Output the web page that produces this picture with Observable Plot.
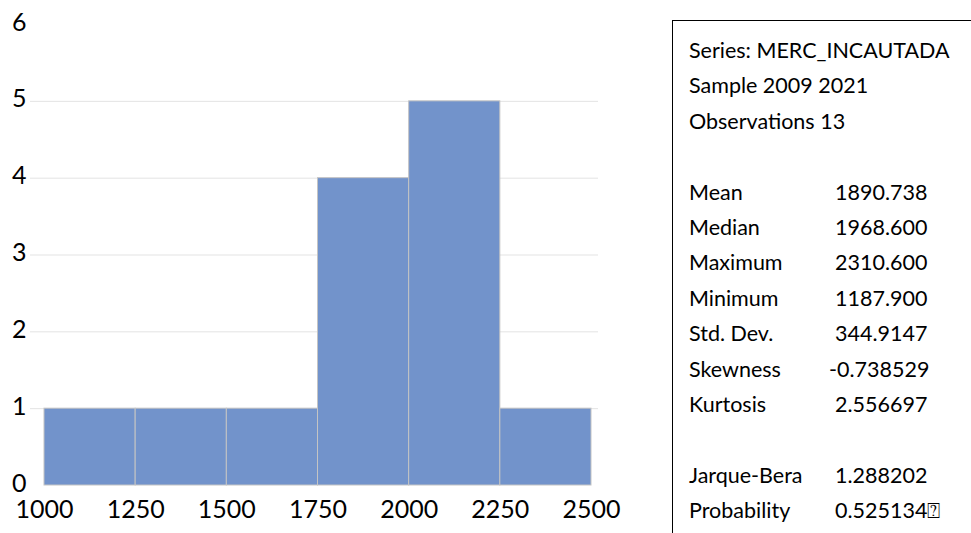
<!DOCTYPE html>
<html>
<head>
<meta charset="utf-8">
<script src="https://cdn.jsdelivr.net/npm/d3@7"></script>
<script src="https://cdn.jsdelivr.net/npm/@observablehq/plot@0.6"></script>
<style>
  html, body { margin: 0; padding: 0; background: #fff; overflow: hidden; }
  #wrap { position: relative; width: 971px; height: 533px; }
  #stats { position: absolute; left: 672px; top: 20px; width: 330px; height: 540px;
           border: 1px solid #000; box-sizing: border-box; font-family: Lato, "Open Sans", sans-serif;
           font-size: 21.5px; color: #000; }
  .ln { position: absolute; white-space: pre; line-height: 1; }
</style>
</head>
<body>
<div id="wrap"><div id="chart"></div><div id="stats"></div></div>
<script>
const binStarts = [1000, 1250, 1500, 1750, 2000, 2250];
const binWidth = 250;
const counts = [1, 1, 1, 4, 5, 1];
const xTicks = [1000, 1250, 1500, 1750, 2000, 2250, 2500];
const yTicks = [0, 1, 2, 3, 4, 5, 6];
const gridValues = [1, 2, 3, 4, 5];

const headerLines = ["Series: MERC_INCAUTADA", "Sample 2009 2021", "Observations 13"];
const statLabels = ["Mean", "Median", "Maximum", "Minimum", "Std. Dev.", "Skewness", "Kurtosis"];
const statValues = ["1890.738", "1968.600", "2310.600", "1187.900", "344.9147", "-0.738529", "2.556697"];
const testLabels = ["Jarque-Bera", "Probability"];
const testValues = ["1.288202", "0.525134\u2370"];

const bins = binStarts.map((s, i) => ({x1: s, x2: s + binWidth, y: counts[i]}));

const chart = Plot.plot({
  width: 971,
  height: 533,
  marginLeft: 44,
  marginRight: 380,
  marginTop: 24,
  marginBottom: 48,
  style: {fontFamily: "Lato, 'Open Sans', sans-serif", fontSize: "25px", color: "#000", background: "#fff", overflow: "visible"},
  x: {domain: [1000, 2500], label: null},
  y: {domain: [0, 6], label: null},
  marks: [
    Plot.ruleY(gridValues, {stroke: "#e3e3e3", strokeWidth: 1, insetLeft: -14, insetRight: -7}),
    Plot.rectY(bins, {x1: "x1", x2: "x2", y: "y", fill: "#7293CB", stroke: "#c4c4c4", strokeWidth: 1}),
    Plot.axisX({ticks: xTicks, tickSize: 0, tickPadding: 15, tickFormat: d => String(d), fontSize: 25, label: null}),
    Plot.axisY({ticks: yTicks, tickSize: 0, tickPadding: 18, tickFormat: d => String(d), fontSize: 25, label: null, dy: -2})
  ]
});
document.getElementById("chart").appendChild(chart);

const stats = document.getElementById("stats");
function addLine(text, left, top) {
  const d = document.createElement("div");
  d.className = "ln";
  d.textContent = text;
  d.style.left = left + "px";
  d.style.top = top + "px";
  stats.appendChild(d);
}
const lineH = 35.4;
const top0 = 19;
headerLines.forEach((t, i) => addLine(t, 16, top0 + i * lineH));
statLabels.forEach((t, i) => {
  const row = i + 4;
  addLine(t, 16, top0 + row * lineH);
  addLine(statValues[i], statValues[i].startsWith("-") ? 156 : 162, top0 + row * lineH);
});
testLabels.forEach((t, i) => {
  const row = i + 12;
  addLine(t, 16, top0 + row * lineH);
  addLine(testValues[i], 162, top0 + row * lineH);
});
</script>
</body>
</html>
